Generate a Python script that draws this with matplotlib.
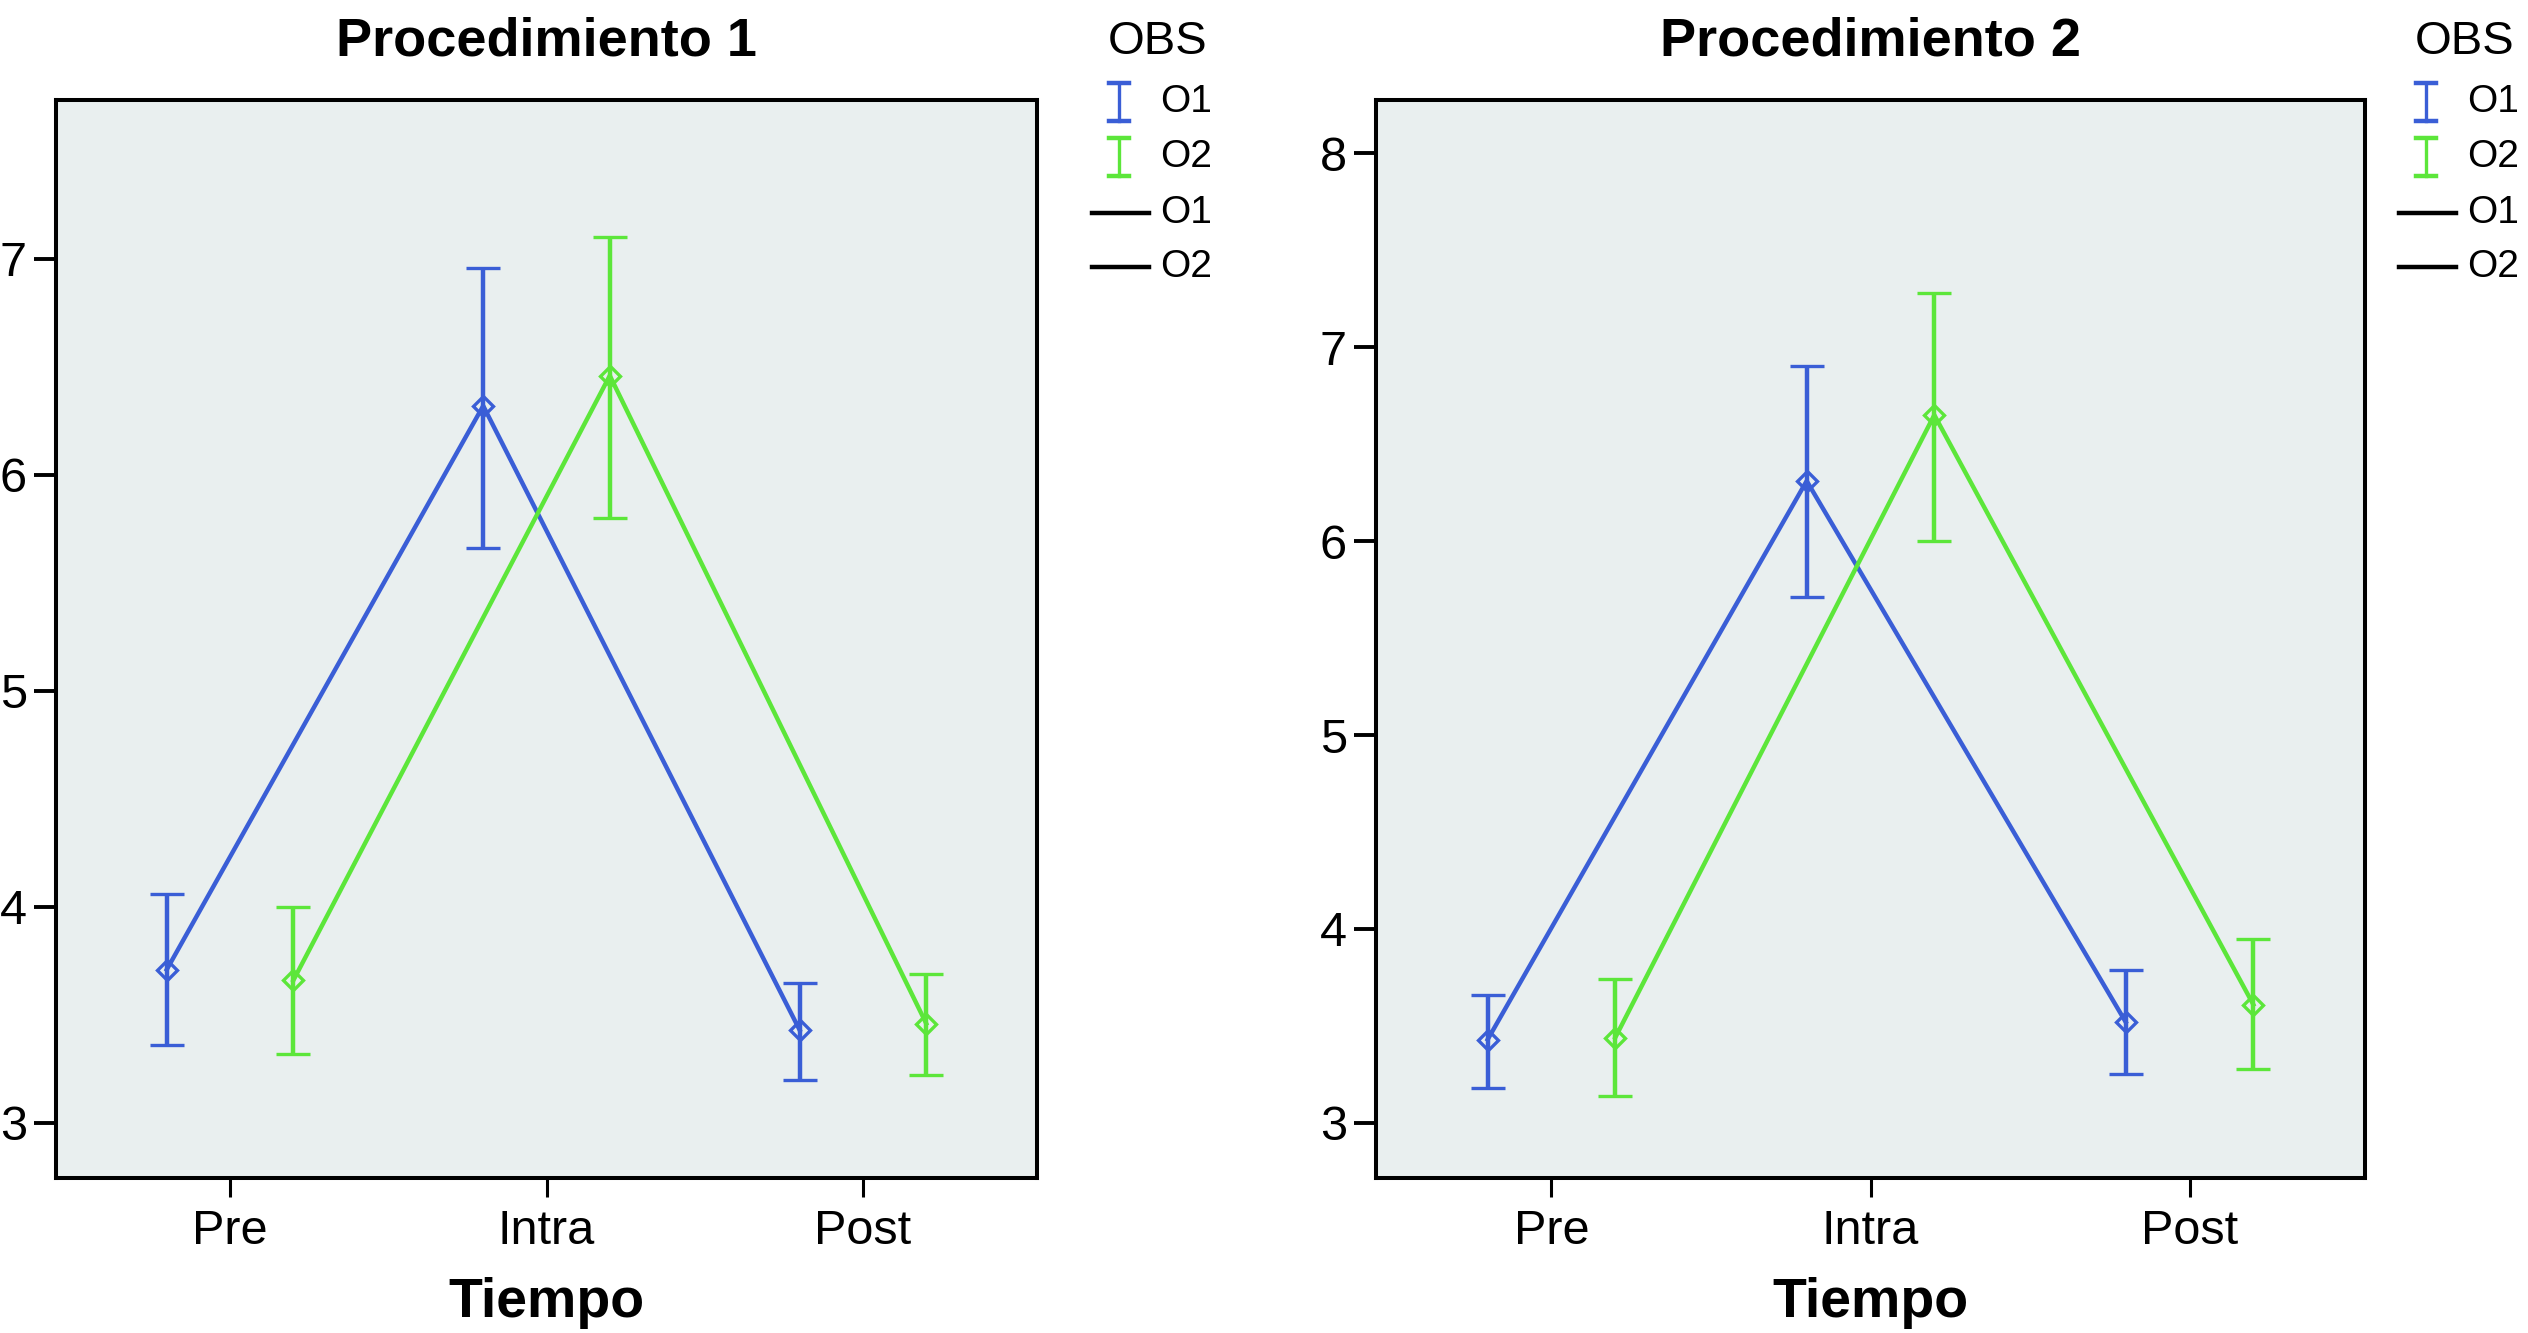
import matplotlib
matplotlib.use('Agg')
import matplotlib.pyplot as plt
from matplotlib.lines import Line2D
import numpy as np

plt.rcParams['font.family'] = ['Liberation Sans', 'DejaVu Sans']

# Datos (media y límites del IC)
tiempos = ['Pre', 'Intra', 'Post']
series = ['O1', 'O2']

# Procedimiento 1
p1_o1_media = [3.71, 6.32, 3.43]
p1_o1_sup = [4.06, 6.96, 3.65]
p1_o1_inf = [3.36, 5.66, 3.20]
p1_o2_media = [3.66, 6.46, 3.46]
p1_o2_sup = [4.00, 7.10, 3.69]
p1_o2_inf = [3.32, 5.80, 3.22]

# Procedimiento 2
p2_o1_media = [3.43, 6.31, 3.52]
p2_o1_sup = [3.66, 6.90, 3.79]
p2_o1_inf = [3.18, 5.71, 3.25]
p2_o2_media = [3.44, 6.65, 3.61]
p2_o2_sup = [3.74, 7.28, 3.95]
p2_o2_inf = [3.14, 6.00, 3.28]

azul = '#3A5ED6'
verde = '#5CE63A'
fondo = '#E9EFEF'

W, H = 2528, 1333
fig = plt.figure(figsize=(W / 100, H / 100), dpi=100)


def px(x, y):
    return x / W, 1 - y / H


def panel(rect, titulo, o1, o2, ylim, yticks):
    ax = fig.add_axes(rect)
    ax.set_facecolor(fondo)
    x = np.arange(len(tiempos))
    for (media, sup, inf), color, dx in [(o1, azul, -0.2), (o2, verde, 0.2)]:
        media = np.array(media)
        err = [media - np.array(inf), np.array(sup) - media]
        ax.errorbar(x + dx, media, yerr=err, color=color, lw=3.2, capsize=12,
                    capthick=3.6, marker='D', ms=10, mfc='none', mec=color, mew=2.4)
    ax.set_xlim(-0.55, 2.55)
    ax.set_ylim(*ylim)
    ax.set_xticks(x, tiempos)
    ax.set_yticks(yticks)
    for s in ax.spines.values():
        s.set_linewidth(2.9)
    ax.tick_params(axis='y', length=16, width=2.8, labelsize=35, pad=5)
    ax.tick_params(axis='x', length=14, width=2.2, labelsize=35, pad=8)
    ax.set_title(titulo, fontsize=39, fontweight='bold', pad=32)
    ax.set_xlabel('Tiempo', fontsize=40, fontweight='bold', labelpad=17)
    return ax


def leyenda(dx):
    fig.text(*px(1108 + dx, 42), 'OBS', fontsize=34, va='center', ha='left')
    filas = [102, 157, 213, 267]
    for color, yc in [(azul, filas[0]), (verde, filas[1])]:
        cx = 1119 + dx
        y0, y1 = yc - 19, yc + 19
        fig.add_artist(Line2D(*zip(px(cx, y0), px(cx, y1)), color=color, lw=2.4))
        fig.add_artist(Line2D(*zip(px(cx - 10, y0), px(cx + 10, y0)), color=color, lw=3.2))
        fig.add_artist(Line2D(*zip(px(cx - 10, y1), px(cx + 10, y1)), color=color, lw=3.2))
    for yc in filas[2:]:
        fig.add_artist(Line2D(*zip(px(1092 + dx, yc), px(1149 + dx, yc)), color='black', lw=3.2))
    for nombre, yc in zip(series + series, filas):
        fig.text(*px(1160 + dx, yc), nombre, fontsize=28, va='center', ha='left')


ax_h = 1078 / H
ax_b = (H - 1178) / H
panel([56 / W, ax_b, 981 / W, ax_h], 'Procedimiento 1',
      (p1_o1_media, p1_o1_sup, p1_o1_inf), (p1_o2_media, p1_o2_sup, p1_o2_inf),
      (2.745, 7.736), [3, 4, 5, 6, 7])
panel([1376 / W, ax_b, 989 / W, ax_h], 'Procedimiento 2',
      (p2_o1_media, p2_o1_sup, p2_o1_inf), (p2_o2_media, p2_o2_sup, p2_o2_inf),
      (2.716, 8.274), [3, 4, 5, 6, 7, 8])
leyenda(0)
leyenda(1307)

fig.savefig('out.png', dpi=100)
